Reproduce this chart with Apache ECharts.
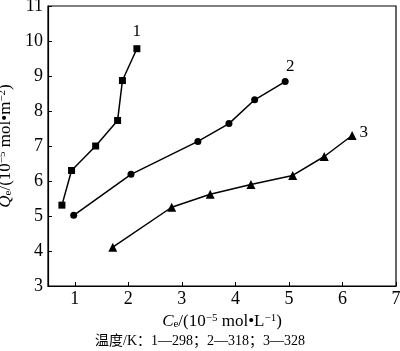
<!DOCTYPE html>
<html>
<head>
<meta charset="utf-8">
<script src="https://cdn.jsdelivr.net/npm/echarts@6/dist/echarts.min.js"></script>
<style>
html, body { margin: 0; padding: 0; background: #fff; }
#chart { width: 400px; height: 351px; }
</style>
</head>
<body>
<div id="chart"></div>
<script>
// readings, Ce (10^-5 mol/L) vs Qe (10^-5 mol/m2)
var ce298 = [0.76, 0.94, 1.39, 1.80, 1.89, 2.16];
var qe298 = [5.31, 6.30, 7.00, 7.73, 8.87, 9.78];
var ce318 = [0.98, 2.05, 3.30, 3.88, 4.36, 4.93];
var qe318 = [5.02, 6.19, 7.13, 7.64, 8.32, 8.84];
var ce328 = [1.71, 2.81, 3.53, 4.29, 5.07, 5.66, 6.18];
var qe328 = [4.11, 5.25, 5.62, 5.90, 6.16, 6.70, 7.30];
var curveNames = ['1', '2', '3'];
var xTicks = [1, 2, 3, 4, 5, 6, 7];

var font = 'Liberation Serif';

function pairs(xs, ys, name, pos, off) {
    return xs.map(function (x, i) {
        var item = { value: [x, ys[i]] };
        if (i === xs.length - 1) {
            item.label = {
                show: true, formatter: name, position: pos, offset: off,
                color: '#000', fontFamily: font, fontSize: 17
            };
        }
        return item;
    });
}

function line(name, data, symbol, size) {
    return {
        name: name,
        type: 'line',
        data: data,
        symbol: symbol,
        symbolSize: size,
        showSymbol: true,
        color: '#000',
        lineStyle: { color: '#000', width: 1.5 },
        itemStyle: { color: '#000' },
        animation: false
    };
}

var rich = {
    i: { fontFamily: font, fontStyle: 'italic', fontSize: 17, color: '#000' },
    t: { fontFamily: font, fontSize: 17, color: '#000' },
    sub: { fontFamily: font, fontSize: 11, color: '#000', verticalAlign: 'bottom', padding: [6, 0, 0, 0] },
    sup: { fontFamily: font, fontSize: 11, color: '#000', verticalAlign: 'top', padding: [0, 0, 6, 0] }
};

var chart = echarts.init(document.getElementById('chart'));
chart.setOption({
    backgroundColor: '#fff',
    grid: {
        left: 48, right: 4, top: 6, bottom: 65,
        outerBoundsMode: 'none',
        containLabel: false,
        show: true, borderColor: '#000', borderWidth: 1.2
    },
    xAxis: {
        type: 'value',
        min: 0.5, max: 7,
        splitLine: { show: false },
        axisLine: { lineStyle: { color: '#000', width: 1.2 } },
        axisTick: { inside: true, length: 4, customValues: xTicks, lineStyle: { color: '#000' } },
        axisLabel: { customValues: xTicks, color: '#000', fontFamily: font, fontSize: 18, margin: 4 },
        name: '{i|C}{sub|e}{t|/(10}{sup|−5}{t| mol•L}{sup|−1}{t|)}',
        nameLocation: 'middle',
        nameGap: 22,
        nameTextStyle: { rich: rich }
    },
    yAxis: {
        type: 'value',
        min: 3, max: 11, interval: 1,
        splitLine: { show: false },
        axisLine: { lineStyle: { color: '#000', width: 1.2 } },
        axisTick: { inside: true, length: 4, lineStyle: { color: '#000' } },
        axisLabel: { color: '#000', fontFamily: font, fontSize: 18, margin: 5 },
        name: '{i|Q}{sub|e}{t|/(10}{sup|−5}{t| mol•m}{sup|−2}{t|)}',
        nameLocation: 'middle',
        nameGap: 25,
        nameRotate: 90,
        nameTextStyle: { rich: rich }
    },
    graphic: [{
        type: 'text',
        left: 'center',
        top: 334,
        style: {
            text: '温度/K：1—298；2—318；3—328',
            fill: '#000',
            font: '14px "Liberation Serif", "Noto Sans CJK SC"'
        }
    }],
    series: [
        line(curveNames[0], pairs(ce298, qe298, curveNames[0], 'top', [0, 0]), 'rect', 7),
        line(curveNames[1], pairs(ce318, qe318, curveNames[1], 'top', [5, 2]), 'circle', 7),
        line(curveNames[2], pairs(ce328, qe328, curveNames[2], 'right', [-2, -3]), 'triangle', 9)
    ]
});
</script>
</body>
</html>
